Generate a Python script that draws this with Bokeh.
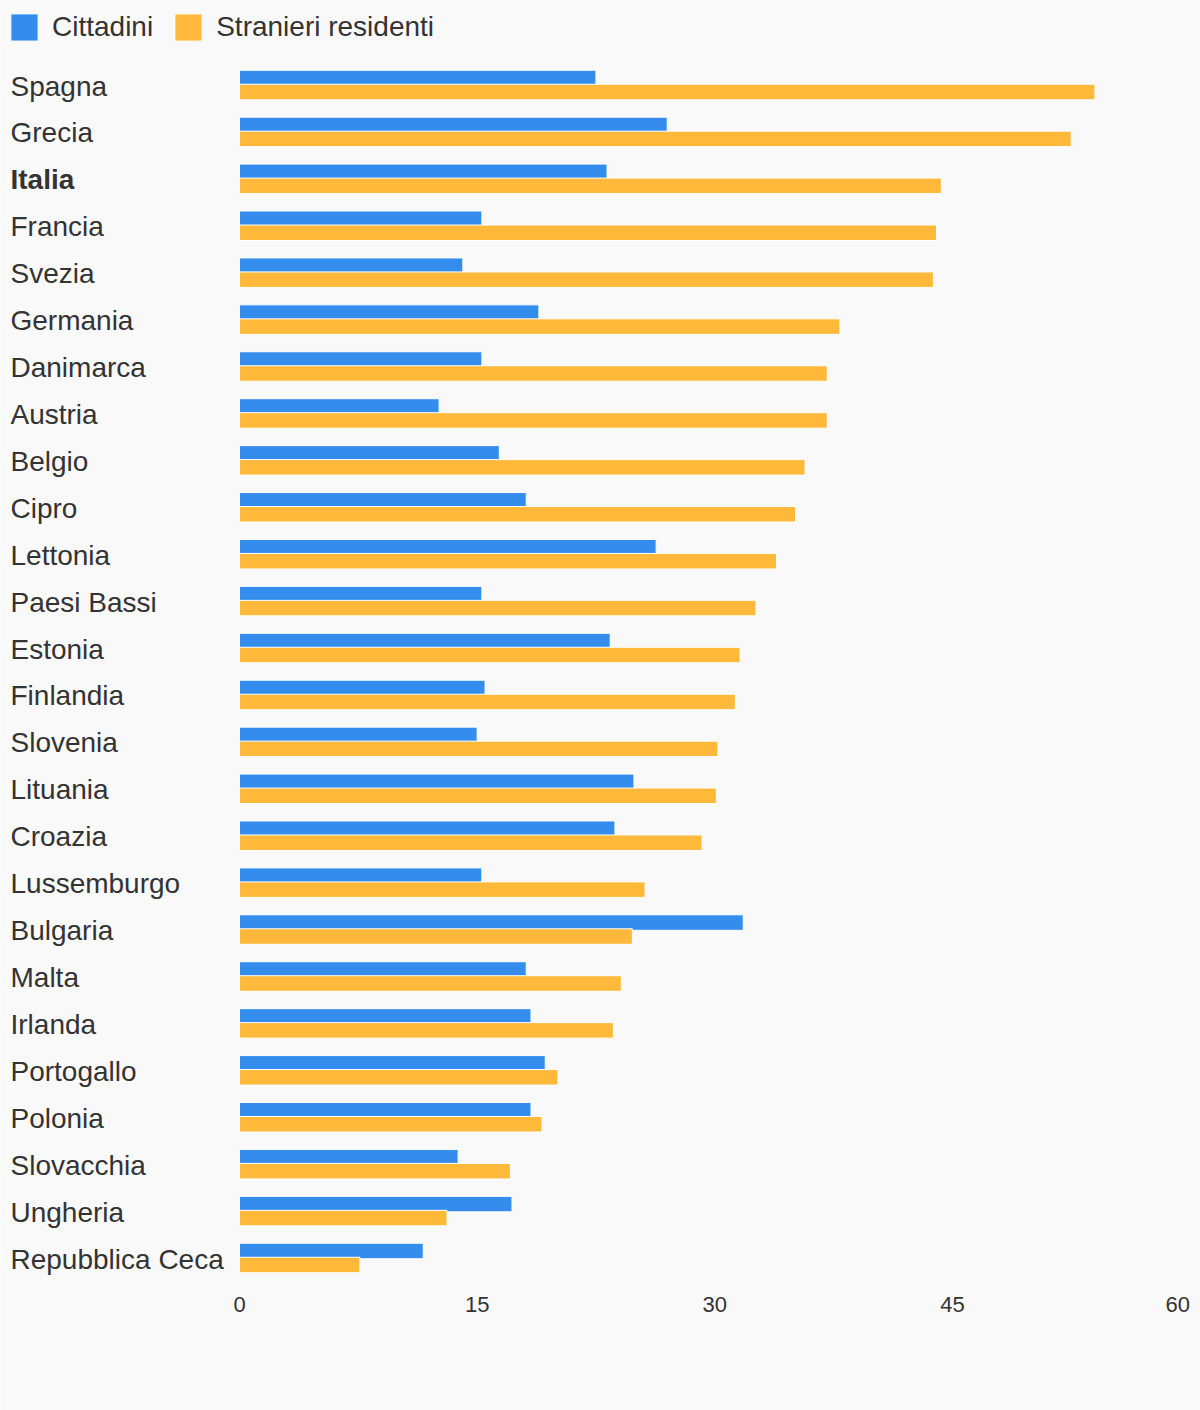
import numpy as np
from bokeh.plotting import figure
from bokeh.models import ColumnDataSource, Range1d
from bokeh.core.properties import value
from bokeh.embed import file_html
from bokeh.resources import INLINE

# ---- data ----
countries = ["Spagna", "Grecia", "Italia", "Francia", "Svezia", "Germania", "Danimarca",
             "Austria", "Belgio", "Cipro", "Lettonia", "Paesi Bassi", "Estonia", "Finlandia",
             "Slovenia", "Lituania", "Croazia", "Lussemburgo", "Bulgaria", "Malta", "Irlanda",
             "Portogallo", "Polonia", "Slovacchia", "Ungheria", "Repubblica Ceca"]
cittadini = [22.5, 27.0, 23.2, 15.3, 14.1, 18.9, 15.3, 12.6, 16.4, 18.1, 26.3, 15.3, 23.4,
             15.5, 15.0, 24.9, 23.7, 15.3, 31.8, 18.1, 18.4, 19.3, 18.4, 13.8, 17.2, 11.6]
stranieri = [54.0, 52.5, 44.3, 44.0, 43.8, 37.9, 37.1, 37.1, 35.7, 35.1, 33.9, 32.6, 31.6,
             31.3, 30.2, 30.1, 29.2, 25.6, 24.8, 24.1, 23.6, 20.1, 19.1, 17.1, 13.1, 7.6]
highlight = "Italia"
series_names = ["Cittadini", "Stranieri residenti"]
x_ticks = [0, 15, 30, 45, 60]

# ---- layout (pixels) ----
W, H = 1200, 1410
PAGE = 0
X0_PX, X60_PX = 239.0, 1189.5          # px of value 0 and 60
ROW0_PX, PITCH = 84.5, 46.92           # px of first row centre, row pitch
LABEL_PX = 10.0
ppu = (X60_PX - X0_PX) / 60.0
x_start = (PAGE - X0_PX) / ppu
x_end = (PAGE + W - X0_PX) / ppu
y_top = (PAGE - ROW0_PX) / PITCH
y_bottom = (PAGE + H - ROW0_PX) / PITCH
label_x = (LABEL_PX - X0_PX) / ppu

BLUE = "#348dec"
ORANGE = "#ffb93a"
BG = "#f9f9f9"
TXT = "#333333"
FONT = "Liberation Sans"

n = len(countries)
idx = np.arange(n)
off = 7.0 / PITCH
bh = 15.5 / PITCH

src = ColumnDataSource(dict(
    yb=idx - off, yo=idx + off, yl=idx.astype(float),
    cit=cittadini, stra=stranieri, name=countries,
    style=["bold" if c == highlight else "normal" for c in countries],
    zero=[0] * n,
))

p = figure(width=W, height=H, output_backend="svg", toolbar_location=None,
           x_range=Range1d(x_start, x_end), y_range=Range1d(y_bottom, y_top),
           x_axis_location=None, y_axis_location=None, min_border=0,
           background_fill_color=BG, border_fill_color=BG, outline_line_color=None)
p.grid.visible = False

p.hbar(y="yb", left="zero", right="cit", height=bh, source=src,
       fill_color=BLUE, line_color="white", line_width=1, legend_label=series_names[0])
p.hbar(y="yo", left="zero", right="stra", height=bh, source=src,
       fill_color=ORANGE, line_color="white", line_width=1, legend_label=series_names[1])

p.text(x=label_x, y="yl", text="name", source=src, text_font=value(FONT),
       text_font_size="28px", text_color=TXT, text_baseline="middle",
       text_align="left", text_font_style="style", y_offset=1)

tick_src = ColumnDataSource(dict(
    x=x_ticks, y=[float(n)] * len(x_ticks), t=[str(v) for v in x_ticks],
    align=["center"] * (len(x_ticks) - 1) + ["right"],
))
p.text(x="x", y="y", text="t", source=tick_src, text_font=value(FONT),
       text_font_size="22px", text_color=TXT, text_baseline="middle", text_align="align")

lg = p.legend[0]
lg.location = "top_left"
lg.orientation = "horizontal"
lg.glyph_width = 34
lg.glyph_height = 34
lg.label_standoff = 11
lg.spacing = 18
lg.padding = 0
lg.margin = 7
lg.background_fill_alpha = 0
lg.border_line_alpha = 0
lg.label_text_font = FONT
lg.label_text_font_size = "28px"
lg.label_text_color = TXT
lg.label_height = 40

open("out.html", "w").write(file_html(p, INLINE))
